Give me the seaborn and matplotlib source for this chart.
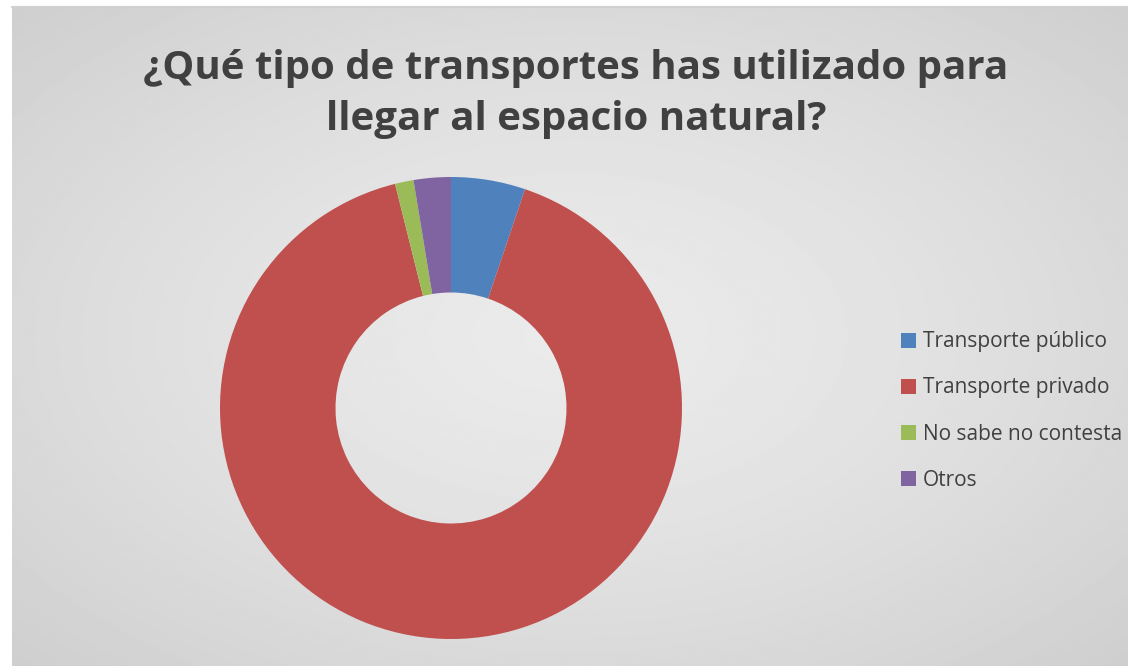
import numpy as np
import matplotlib
matplotlib.use("Agg")
import matplotlib.pyplot as plt
import seaborn as sns

# datos
categorias = ["Transporte público", "Transporte privado", "No sabe no contesta", "Otros"]
respuestas = [4, 70, 1, 2]
colores = ["#4f81bd", "#c0504d", "#9bbb59", "#8064a2"]

titulo = "¿Qué tipo de transportes has utilizado para\nllegar al espacio natural?"

sns.set_theme(style="white")
plt.rcParams["font.family"] = ["Open Sans", "DejaVu Sans"]

W, H = 1128, 666
fig = plt.figure(figsize=(W / 100, H / 100), dpi=100)
fig.patch.set_facecolor("white")

# fondo con degradado radial (zona del gráfico)
bg = fig.add_axes([12 / W, 0, 1 - 12 / W, (H - 7) / H])
yy, xx = np.mgrid[0:1:300j, 0:1:500j]
r = np.sqrt(((xx - 0.5) / 0.75) ** 2 + ((yy - 0.5) / 0.75) ** 2)
grad = 0.92 - 0.12 * np.clip(r, 0, 1) ** 1.4
bg.imshow(grad, cmap="gray", vmin=0, vmax=1, aspect="auto", extent=[0, 1, 0, 1])
bg.set_axis_off()
fig.add_artist(plt.Line2D([12 / W, 1], [(H - 7) / H] * 2, color="#d0d0d0", lw=1.5))

# anillo
R = 231
ax = fig.add_axes([(451 - R) / W, (H - 408 - R) / H, 2 * R / W, 2 * R / H])
wedges, _ = ax.pie(respuestas, colors=colores, startangle=90, counterclock=False,
                   wedgeprops=dict(width=0.5, linewidth=0))
ax.set_xlim(-1, 1)
ax.set_ylim(-1, 1)
ax.set_aspect("equal")
ax.set_axis_off()

fig.text(576 / W, 1 - 94 / H, titulo, ha="center", va="center", fontsize=29,
         fontweight="bold", color="#404040", linespacing=1.4)

fig.legend(wedges, categorias, loc="center left", bbox_to_anchor=(893 / W, 1 - 411 / H),
           frameon=False, fontsize=15, labelcolor="#404040", handlelength=0.7,
           handleheight=0.7, handletextpad=0.35, labelspacing=1.2, borderaxespad=0)

fig.savefig("out.png", dpi=100)
